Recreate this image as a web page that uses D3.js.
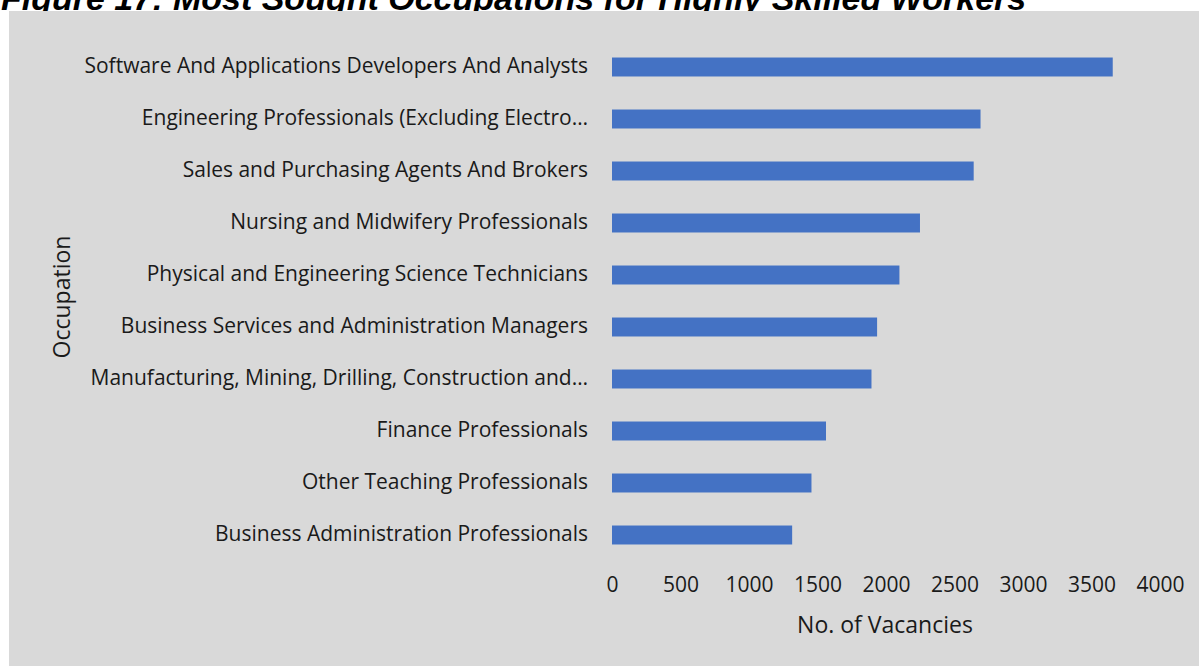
<!DOCTYPE html>
<html lang="en">
<head>
<meta charset="UTF-8">
<title>Most Sought Occupations for Highly Skilled Workers</title>
<script src="https://d3js.org/d3.v7.min.js"></script>
<style>
    body { margin: 0; background: #fff; overflow: hidden; }
    svg { display: block; }
    .lbl { font-family: "Open Sans", sans-serif; fill: #1a1a1a; }
</style>
</head>
<body>
<svg id="chart" width="1199" height="666"></svg>
<script>
    // data, top to bottom
    const occupations = [
        "Software And Applications Developers And Analysts",
        "Engineering Professionals (Excluding Electro\u2026",
        "Sales and Purchasing Agents And Brokers",
        "Nursing and Midwifery Professionals",
        "Physical and Engineering Science Technicians",
        "Business Services and Administration Managers",
        "Manufacturing, Mining, Drilling, Construction and\u2026",
        "Finance Professionals",
        "Other Teaching Professionals",
        "Business Administration Professionals"
    ];
    const vacancies = [3655, 2690, 2640, 2248, 2098, 1935, 1894, 1562, 1456, 1315];
    const xTicks = [0, 500, 1000, 1500, 2000, 2500, 3000, 3500, 4000];

    const title = "Figure 17: Most Sought Occupations for Highly Skilled Workers";
    const xTitle = "No. of Vacancies";
    const yTitle = "Occupation";

    const svg = d3.select("#chart");
    const W = 1199, H = 666;

    // title sits partly above the page edge, as in the cropped source
    svg.append("text")
        .attr("x", 1)
        .attr("y", 10)
        .style("font-family", "'Liberation Sans', Arial, sans-serif")
        .style("font-weight", "bold")
        .style("font-style", "italic")
        .style("font-size", "34px")
        .attr("fill", "#000")
        .text(title);

    // chart area background
    svg.append("rect")
        .attr("x", 9).attr("y", 11)
        .attr("width", W - 9).attr("height", H - 11)
        .attr("fill", "#d9d9d9");

    const x = d3.scaleLinear()
        .domain([0, 4000])
        .range([612, 1160]);

    const y = d3.scaleBand()
        .domain(occupations)
        .range([41, 561])
        .paddingInner(0.635)
        .paddingOuter(0.3175);

    svg.append("g")
        .selectAll("rect")
        .data(occupations)
        .enter()
        .append("rect")
        .attr("x", x(0))
        .attr("y", d => y(d))
        .attr("width", (d, i) => x(vacancies[i]) - x(0))
        .attr("height", y.bandwidth())
        .attr("fill", "#4472c4");

    // category labels
    const yAxis = svg.append("g")
        .attr("transform", `translate(${x(0)},0)`)
        .call(d3.axisLeft(y).tickSize(0).tickPadding(24));
    yAxis.select(".domain").remove();
    yAxis.selectAll("text")
        .attr("class", "lbl")
        .attr("dy", "0.3em")
        .style("font-size", "21px");

    // value axis
    const xAxis = svg.append("g")
        .attr("transform", "translate(0,576)")
        .call(d3.axisBottom(x).tickValues(xTicks).tickSize(0).tickPadding(0).tickFormat(d3.format("d")));
    xAxis.select(".domain").remove();
    xAxis.selectAll("text")
        .attr("class", "lbl")
        .attr("dy", "0.75em")
        .style("font-size", "21px");

    svg.append("text")
        .attr("class", "lbl")
        .attr("x", 885)
        .attr("y", 633)
        .attr("text-anchor", "middle")
        .style("font-size", "23px")
        .text(xTitle);

    svg.append("text")
        .attr("class", "lbl")
        .attr("transform", "translate(70,297) rotate(-90)")
        .attr("text-anchor", "middle")
        .style("font-size", "23px")
        .text(yTitle);
</script>
</body>
</html>
